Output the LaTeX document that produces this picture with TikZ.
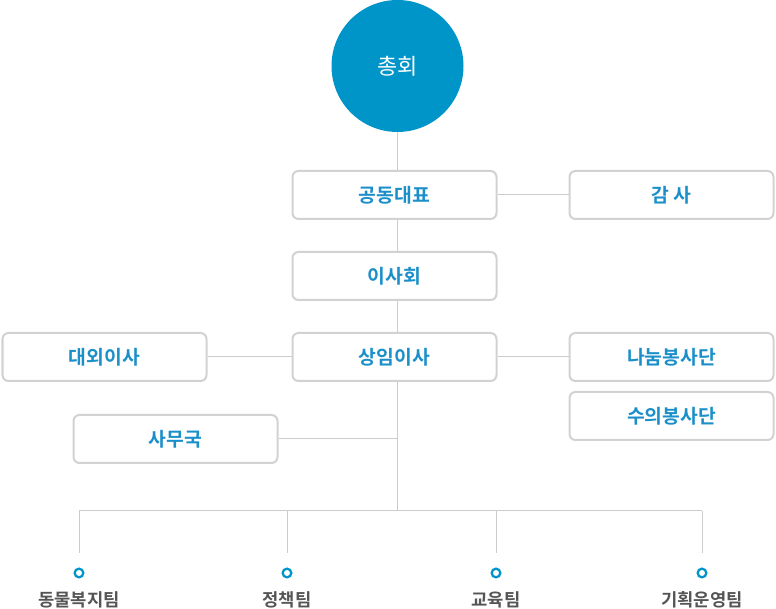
\documentclass[tikz,border=0pt]{standalone}
\usepackage{fontspec}
\newfontfamily\kr{Noto Sans CJK KR}
\newfontfamily\krb{Noto Sans CJK KR Bold}
\definecolor{mainblue}{HTML}{0095C8}
\definecolor{txtblue}{HTML}{1A8FC9}
\definecolor{boxgray}{HTML}{D2D2D2}
\definecolor{linegray}{HTML}{CCCCCC}
\definecolor{labgray}{HTML}{555555}
\begin{document}
\begin{tikzpicture}[x=0.75pt,y=-0.75pt,
  orgbox/.style={draw=boxgray,line width=1.5pt,rounded corners=4.5pt,fill=white,
    minimum width=153pt,minimum height=36pt,inner sep=0pt,
    font=\krb\fontsize{14.5pt}{16pt}\selectfont,text=txtblue},
  conn/.style={draw=linegray,line width=0.75pt},
  dotring/.style={circle,draw=mainblue,line width=1.7pt,minimum size=6.5pt,inner sep=0pt,fill=white},
  team/.style={font=\krb\fontsize{13.3pt}{15pt}\selectfont,text=labgray}]
\useasboundingbox (0,0) rectangle (776,609);
% circle
\node[circle,fill=mainblue,minimum size=99pt,inner sep=0pt,text=white,
  font=\kr\fontsize{16.5pt}{18pt}\selectfont] (gm) at (397.5,66) {총회};
% boxes
\node[orgbox] (rep) at (394.5,195) {공동대표};
\node[orgbox] (aud) at (671.5,195) {감 사};
\node[orgbox] (board) at (394.5,276) {이사회};
\node[orgbox] (exec) at (394.5,357) {상임이사};
\node[orgbox] (ext) at (104.5,357) {대외이사};
\node[orgbox] (share) at (671.5,357) {나눔봉사단};
\node[orgbox] (vet) at (671.5,416) {수의봉사단};
\node[orgbox] (office) at (175.5,439) {사무국};
% junctions
\coordinate (j1) at (office.east -| gm.south);
\coordinate (j2) at (397.5,511);
\coordinate (h1) at (79,511);
\coordinate (h2) at (287,511);
\coordinate (h3) at (496,511);
\coordinate (h4) at (702,511);
% dots
\node[dotring] (d1) at (79,573) {};
\node[dotring] (d2) at (287,573) {};
\node[dotring] (d3) at (496,573) {};
\node[dotring] (d4) at (702,573) {};
% labels
\node[team] (t1) at (79,600) {동물복지팀};
\node[team] (t2) at (287,600) {정책팀};
\node[team] (t3) at (496,600) {교육팀};
\node[team] (t4) at (702,600) {기획운영팀};
% connectors
\draw[conn] (gm.south) -- (gm.south |- rep.north);
\draw[conn] (rep.south -| gm.south) -- (board.north -| gm.south);
\draw[conn] (board.south -| gm.south) -- (exec.north -| gm.south);
\draw[conn] (exec.south -| gm.south) -- (j2);
\draw[conn] (rep.east) -- (aud.west);
\draw[conn] (exec.east) -- (share.west);
\draw[conn] (ext.east) -- (exec.west);
\draw[conn] (office.east) -- (j1);
\draw[conn] (h1) -- (h4);
\draw[conn] (h1) -- ([yshift=11pt]d1.north);
\draw[conn] (h2) -- ([yshift=11pt]d2.north);
\draw[conn] (h3) -- ([yshift=11pt]d3.north);
\draw[conn] (h4) -- ([yshift=11pt]d4.north);
\end{tikzpicture}
\end{document}
